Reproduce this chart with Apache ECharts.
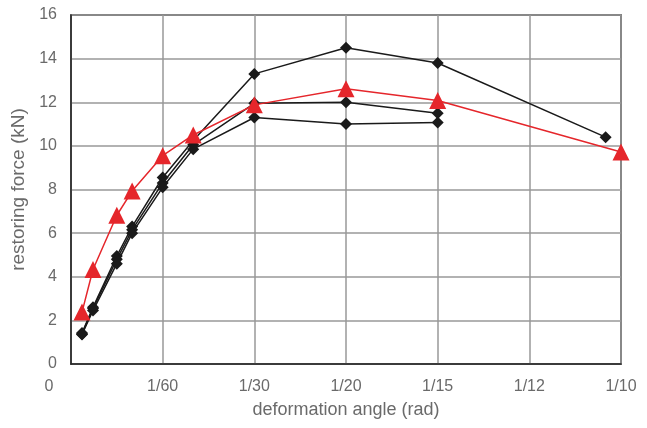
<!DOCTYPE html>
<html><head><meta charset="utf-8">
<script src="https://cdn.jsdelivr.net/npm/echarts@6/dist/echarts.min.js"></script>
<style>html,body{margin:0;padding:0;background:#fff}#c{width:647px;height:428px}</style>
</head><body><div id="c"></div>
<script>
// deformation angles (rad)
var anglesBlack = [1/500, 1/250, 1/120, 1/90, 1/60, 1/45, 1/30, 1/20, 1/15, 0.0972];
var anglesRed = [1/500, 1/250, 1/120, 1/90, 1/60, 1/45, 1/30, 1/20, 1/15, 1/10];
var specimenA = [1.42, 2.6, 4.95, 6.3, 8.55, 10.25, 13.3, 14.5, 13.8, 10.4];
var specimenB = [1.38, 2.55, 4.8, 6.15, 8.3, 10.05, 11.95, 12.0, 11.5];
var specimenC = [1.35, 2.45, 4.6, 6.0, 8.1, 9.85, 11.3, 11.0, 11.07];
var redValues = [2.38, 4.33, 6.82, 7.93, 9.55, 10.5, 11.88, 12.62, 12.08, 9.72];
var xTickLabels = ['0', '1/60', '1/30', '1/20', '1/15', '1/12', '1/10'];
var yTicks = [0, 2, 4, 6, 8, 10, 12, 14, 16];

function pts(angles, vals) {
  return vals.map(function (v, i) { return [angles[i] * 60, v]; });
}
var labelColor = '#6a6a6a';
var font = 'Liberation Sans, Arial, sans-serif';
function blackSeries(vals) {
  return {
    type: 'line', data: pts(anglesBlack, vals), symbol: 'diamond', symbolSize: 12,
    lineStyle: { color: '#1a1a1a', width: 1.5 }, itemStyle: { color: '#1a1a1a' },
    animation: false, z: 3
  };
}
var chart = echarts.init(document.getElementById('c'), null, { renderer: 'canvas' });
chart.setOption({
  animation: false,
  grid: { left: 71, right: 26, top: 15, bottom: 64, show: true, borderColor: '#222', borderWidth: 1.5, backgroundColor: 'transparent' },
  xAxis: {
    type: 'value', min: 0, max: xTickLabels.length - 1, interval: 1,
    name: 'deformation angle (rad)', nameLocation: 'middle', nameGap: 37,
    nameTextStyle: { color: labelColor, fontSize: 18, fontFamily: font },
    axisLine: { show: true, lineStyle: { color: '#222', width: 1.5 } },
    axisTick: { show: false },
    splitLine: { show: true, lineStyle: { color: '#999', width: 1.5 } },
    axisLabel: {
      color: labelColor, fontSize: 16, fontFamily: font, margin: 15,
      formatter: function (v) {
        var s = xTickLabels[Math.round(v)];
        return Math.round(v) === 0 ? '{z|' + s + '}' : s;
      },
      rich: { z: { padding: [0, 44, 0, 0], color: labelColor, fontSize: 16, fontFamily: font } }
    }
  },
  yAxis: {
    type: 'value', min: yTicks[0], max: yTicks[yTicks.length - 1], interval: 2,
    name: 'restoring force (kN)', nameLocation: 'middle', nameGap: 38, nameRotate: 90,
    nameTextStyle: { color: labelColor, fontSize: 19, fontFamily: font },
    axisLine: { show: true, lineStyle: { color: '#222', width: 1.5 } },
    axisTick: { show: false },
    splitLine: { show: true, lineStyle: { color: '#999', width: 1.5 } },
    axisLabel: { color: labelColor, fontSize: 16, fontFamily: font, margin: 14 }
  },
  series: [
    blackSeries(specimenA),
    blackSeries(specimenB),
    blackSeries(specimenC),
    {
      type: 'line', data: pts(anglesRed, redValues), symbol: 'triangle', symbolSize: 17,
      lineStyle: { color: '#e5262b', width: 1.5 }, itemStyle: { color: '#e5262b' },
      animation: false, z: 4
    }
  ]
});
</script></body></html>
